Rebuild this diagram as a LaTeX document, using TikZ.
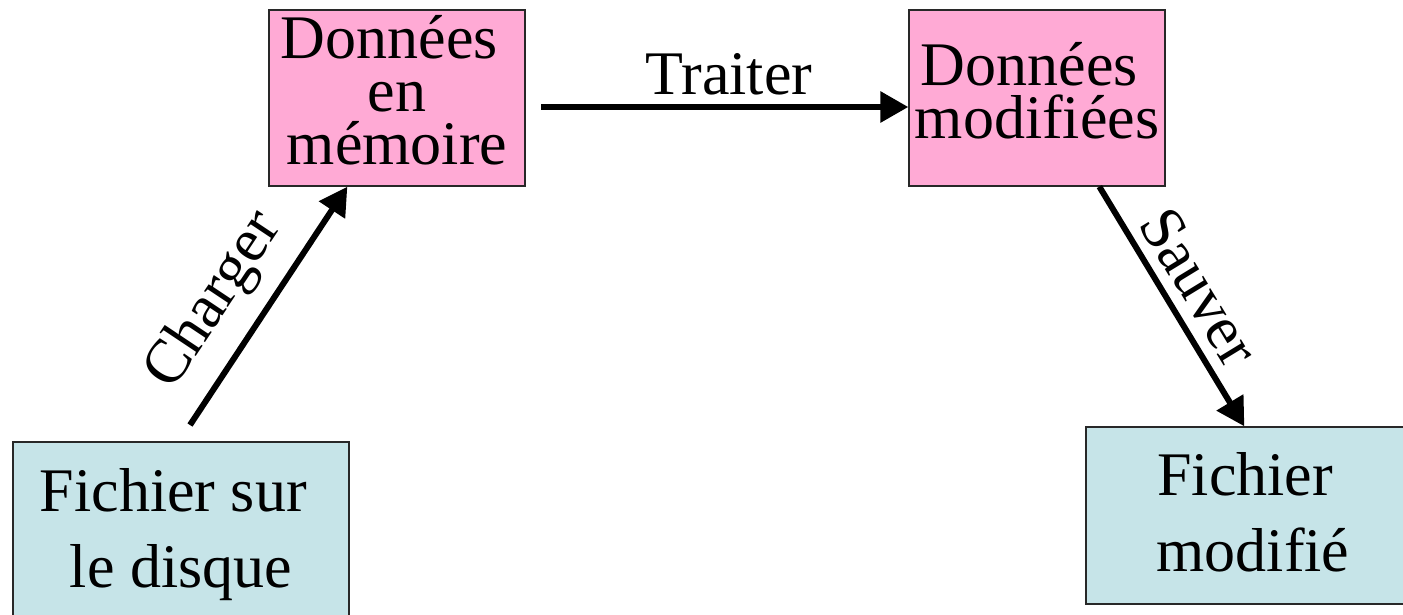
\documentclass[tikz,border=0pt]{standalone}
\usepackage{fontspec}
\setmainfont{Liberation Serif}
\usetikzlibrary{arrows.meta}
\definecolor{pinkfill}{RGB}{255,170,213}
\definecolor{cyanfill}{RGB}{198,228,232}
\definecolor{edgegray}{RGB}{40,40,40}
\begin{document}
\begin{tikzpicture}[x=1pt,y=-1pt,
  pinkbox/.style={draw=edgegray,line width=1.3pt,fill=pinkfill,inner sep=0pt,
    minimum width=256pt,minimum height=176pt,align=center,
    font=\fontsize{62}{53}\selectfont},
  cyanbox/.style={draw=edgegray,line width=1.3pt,fill=cyanfill,inner sep=0pt,
    align=center,font=\fontsize{62}{76}\selectfont},
  flow/.style={line width=6pt,-{Triangle[length=28pt,width=30pt]}},
  lbl/.style={inner sep=0pt,font=\fontsize{62}{70}\selectfont}]
\useasboundingbox (0,0) rectangle (1403,614);
% boxes
\node[pinkbox] (m1) at (397,98) {Donn\'ees\ \mbox{}\\en\\m\'emoire\rule[-16pt]{0pt}{0pt}};
\node[pinkbox] (m2) at (1037,98) {Donn\'ees\ \mbox{}\\modifi\'ees\rule[-15pt]{0pt}{0pt}};
\node[cyanbox,minimum width=336pt,minimum height=185pt] (f1) at (181,534.5) {Fichier sur\ \mbox{}\\le disque};
\node[cyanbox,minimum width=334pt,minimum height=177pt] (f2) at (1253,515.5) {Fichier\ \mbox{}\\modifi\'e\rule[-7pt]{0pt}{0pt}};
% connector end points
\coordinate (cs) at (190,425);
\coordinate (ct) at ([xshift=79pt]m1.south west);
\coordinate (ts) at (541,107);
\coordinate (tt) at (m2.west |- ts);
\coordinate (ss) at ([xshift=191pt]m2.south west);
\coordinate (st) at ([xshift=159pt]f2.north west);
% connectors
\draw[flow] (cs) -- (ct);
\draw[flow] (ts) -- (tt);
\draw[flow] (ss) -- (st);
% labels
\node[lbl,anchor=base] (lt) at (729,94.3) {Traiter};
\node[lbl,rotate=56.3] (lc) at (215,301) {Charger};
\node[lbl,rotate=-58.6] (ls) at (1200,287) {Sauver};
\end{tikzpicture}
\end{document}
